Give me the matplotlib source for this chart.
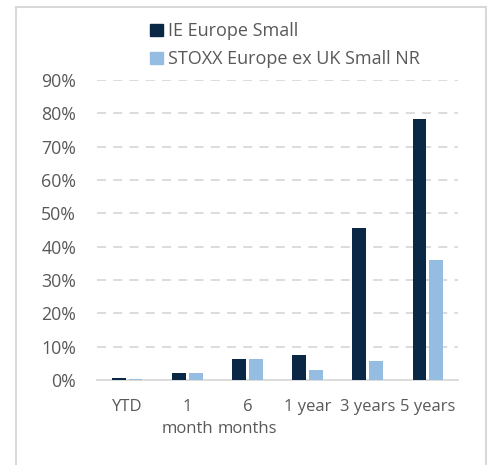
import matplotlib.pyplot as plt
import numpy as np
from matplotlib.patches import Rectangle, Patch

categories = ['YTD', '1\nmonth', '6\nmonths', '1 year', '3 years', '5 years']
ie_europe_small = [0.5, 2.1, 6.2, 7.4, 45.5, 78.3]
stoxx_ex_uk = [0.3, 2.0, 6.2, 3.0, 5.7, 36.0]
series_names = ['IE Europe Small', 'STOXX Europe ex UK Small NR']
yticks = [0, 10, 20, 30, 40, 50, 60, 70, 80, 90]

dark = '#0a2846'
light = '#95bde2'
grey_text = '#595959'
grid_col = '#d9d9d9'

plt.rcParams['font.family'] = ['Open Sans', 'DejaVu Sans']

fig = plt.figure(figsize=(4.93, 4.65), dpi=100)
ax = fig.add_axes([97 / 493, 1 - 380 / 465, (458 - 97) / 493, 300 / 465])

x = np.arange(len(categories))
w = 0.23
ax.bar(x - 0.14, ie_europe_small, width=w, color=dark, zorder=3)
ax.bar(x + 0.14, stoxx_ex_uk, width=w, color=light, zorder=3)

ax.set_xlim(-0.5, len(categories) - 0.5)
ax.set_ylim(0, 90)
ax.set_yticks(yticks)
ax.set_yticklabels([f'{t}%' for t in yticks])
ax.set_xticks(x)
ax.set_xticklabels(categories, linespacing=1.5)

for t in yticks[1:]:
    ax.axhline(t, color=grid_col, linestyle=(0, (5, 4)), linewidth=1.3, zorder=1)

for s in ['top', 'right', 'left']:
    ax.spines[s].set_visible(False)
ax.spines['bottom'].set_color(grid_col)
ax.spines['bottom'].set_linewidth(1.3)
ax.tick_params(axis='both', length=0, colors=grey_text, labelsize=12)
ax.tick_params(axis='y', pad=15, labelsize=12.8)
ax.tick_params(axis='x', pad=14)

handles = [Patch(color=dark), Patch(color=light)]
fig.legend(handles, series_names, loc='upper left', bbox_to_anchor=(143 / 493, 1 - 15 / 465),
           frameon=False, fontsize=13, labelcolor=grey_text, handlelength=0.68,
           handleheight=0.68, handletextpad=0.3, labelspacing=0.55, borderaxespad=0)

# outer frame
fig.patches.append(Rectangle((16 / 493, -0.05), (486 - 16) / 493, 1.05 - 7 / 465,
                             transform=fig.transFigure, fill=False, edgecolor=grid_col,
                             linewidth=1.5))

fig.savefig('out.png', dpi=100)
